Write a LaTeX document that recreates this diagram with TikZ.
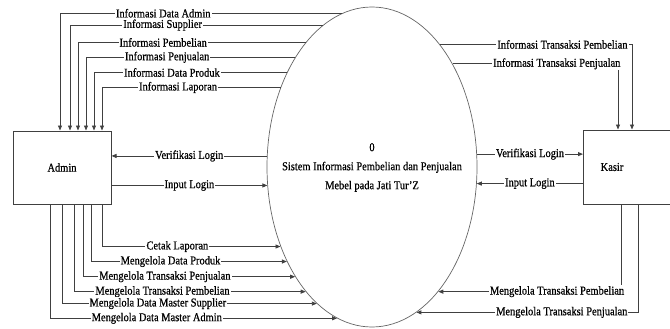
\documentclass[tikz,border=0pt]{standalone}
\usepackage{fontspec}
\setmainfont{Liberation Serif}[FakeStretch=0.87,FakeBold=0.6]
\usepackage{tikz}
\usetikzlibrary{arrows.meta,shapes.geometric}

\tikzset{
  flow/.style={draw=black!75, line width=0.9pt, -{Triangle[length=5pt,width=4pt]}},
  lbl/.style={fill=white, inner sep=1pt, font=\fontsize{12}{12}\selectfont},
  entity/.style={draw=black!75, line width=1pt, rectangle, inner sep=0pt, font=\fontsize{12}{12}\selectfont},
  prc/.style={draw=black!60, line width=0.7pt, ellipse, inner sep=0pt, minimum width=210pt, minimum height=320pt}
}

\begin{document}
\begin{tikzpicture}[x=1pt,y=-1pt]
\useasboundingbox (0,0) rectangle (670,329);
\node[prc] (sys) at (372,167) {};
\node[align=center, font=\fontsize{12}{19}\selectfont] (systxt) at (372,167.5) {0\\Sistem Informasi Pembelian dan Penjualan\\Mebel pada Jati Tur’Z};
\node[entity, minimum width=98pt, minimum height=73pt] (admin) at (62,167.5) {Admin};
\node[entity, minimum width=180pt, minimum height=74pt, anchor=west] (kasir) at (583,167) {};
\node[font=\fontsize{12}{12}\selectfont] (kasirtxt) at (612,167) {Kasir};
\draw[flow] (sys.101.35) -| node[lbl,pos=0.317] {Informasi Data Admin} ([xshift=-2pt]admin.north);
\draw[flow] (sys.109.95) -| node[lbl,pos=0.317] {Informasi Supplier} ([xshift=8pt]admin.north);
\draw[flow] (sys.118.63) -| node[lbl,pos=0.313] {Informasi Pembelian} ([xshift=16pt]admin.north);
\draw[flow] (sys.125.65) -| node[lbl,pos=0.306] {Informasi Penjualan} ([xshift=24pt]admin.north);
\draw[flow] (sys.132.11) -| node[lbl,pos=0.298] {Informasi Data Produk} ([xshift=32pt]admin.north);
\draw[flow] (sys.139.13) -| node[lbl,pos=0.287] {Informasi Laporan} ([xshift=40pt]admin.north);
\draw[flow] (sys.174.55) -- node[lbl] {Verifikasi Login} (sys.174.55 -| admin.east);
\draw[flow] (admin.east |- sys.190.87) -- node[lbl] {Input Login} (sys.190.87);
\draw[flow] ([xshift=40pt]admin.south) |- node[lbl,pos=0.711] {Cetak Laporan} (sys.221.35);
\draw[flow] ([xshift=29pt]admin.south) |- node[lbl,pos=0.703] {Mengelola Data Produk} (sys.228.81);
\draw[flow] ([xshift=21pt]admin.south) |- node[lbl,pos=0.693] {Mengelola Transaksi Penjualan} (sys.235.73);
\draw[flow] ([xshift=12pt]admin.south) |- node[lbl,pos=0.691] {Mengelola Transaksi Pembelian} (sys.242.33);
\draw[flow] (admin.south) |- node[lbl,pos=0.688] {Mengelola Data Master Supplier} (sys.248.94);
\draw[flow] ([xshift=-12pt]admin.south) |- node[lbl,pos=0.686] {Mengelola Data Master Admin} (sys.257.83);
\draw[flow] (sys.61.85) -| node[lbl,pos=0.319] {Informasi Transaksi Pembelian} ([xshift=49pt]kasir.north west);
\draw[flow] (sys.52.96) -| node[lbl,pos=0.315] {Informasi Transaksi Penjualan} ([xshift=35pt]kasir.north west);
\draw[flow] (sys.7.08) -- node[lbl] {Verifikasi Login} (sys.7.08 -| kasir.west);
\draw[flow] (kasir.west |- sys.351.83) -- node[lbl] {Input Login} (sys.351.83);
\draw[flow] ([xshift=38pt]kasir.south west) |- node[lbl,pos=0.675] {Mengelola Transaksi Pembelian} (sys.298.15);
\draw[flow] ([xshift=55pt]kasir.south west) |- node[lbl,pos=0.672] {Mengelola Transaksi Penjualan} (sys.287.63);
\end{tikzpicture}
\end{document}
